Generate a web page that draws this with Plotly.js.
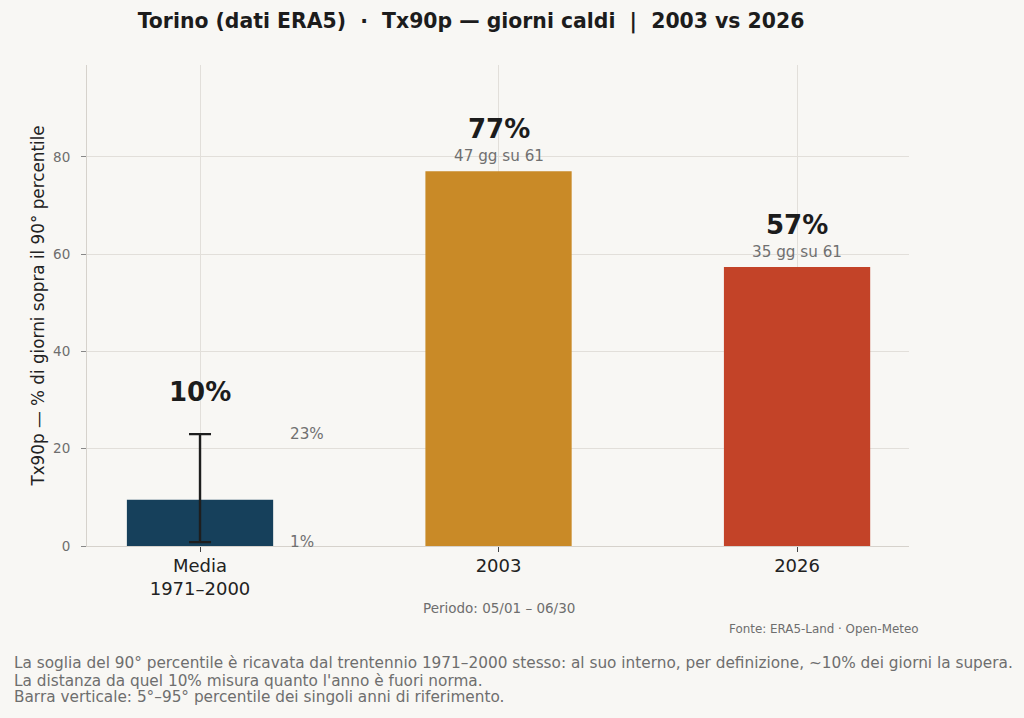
<!DOCTYPE html>
<html>
<head>
<meta charset="utf-8">
<script src="https://cdn.plot.ly/plotly-3.0.1.min.js"></script>
<style>html,body{margin:0;padding:0;background:#f8f7f4;}#chart{width:1024px;height:718px;}</style>
</head>
<body>
<div id="chart"></div>
<script>
// ---- data ----
const categories = ["Media<br>1971–2000", "2003", "2026"];
const values = [9.5, 77.05, 57.38];
const pctLabels = ["10%", "77%", "57%"];
const subLabels = ["", "47 gg su 61", "35 gg su 61"];
const barColors = ["#16405b", "#c98a27", "#c34328"];
const refP95 = 23.0;
const refP5 = 0.8;
const refP95Label = "23%";
const refP5Label = "1%";
const yTicks = [0, 20, 40, 60, 80];

const FONT = "DejaVu Sans, sans-serif";
const L = 87, R = 909, TOP = 65, BOT = 546;
function paperX(px) { return (px - L) / (R - L); }
function paperY(py) { return (BOT - py) / (BOT - TOP); }

const traces = [
  {
    type: "bar",
    x: [0, 1, 2],
    y: values,
    width: 0.49,
    marker: {color: barColors, line: {width: 0}},
    hoverinfo: "skip"
  },
  {
    type: "scatter",
    mode: "markers",
    x: [0],
    y: [values[0]],
    marker: {size: 1, opacity: 0},
    error_y: {
      type: "data", symmetric: false,
      array: [refP95 - values[0]],
      arrayminus: [values[0] - refP5],
      color: "#1e1e1e", thickness: 2.4, width: 11
    },
    hoverinfo: "skip"
  }
];

const annotations = [];
values.forEach((v, i) => {
  const base = i === 0 ? refP95 : v;
  annotations.push({x: i, y: base, xref: "x", yref: "y", text: "<b>" + pctLabels[i] + "</b>",
    showarrow: false, yshift: 42, yanchor: "middle",
    font: {family: FONT, size: 26, color: "#1c1c1c"}});
  if (subLabels[i]) {
    annotations.push({x: i, y: v, xref: "x", yref: "y", text: subLabels[i],
      showarrow: false, yshift: 15, yanchor: "middle",
      font: {family: FONT, size: 15.2, color: "#707070"}});
  }
});
annotations.push({x: 0.295, y: refP95, xref: "x", yref: "y", text: refP95Label, showarrow: false,
  xanchor: "left", yanchor: "middle", font: {family: FONT, size: 15.2, color: "#707070"}});
annotations.push({x: 0.295, y: refP5, xref: "x", yref: "y", text: refP5Label, showarrow: false,
  xanchor: "left", yanchor: "middle", font: {family: FONT, size: 15.2, color: "#707070"}});
annotations.push({x: 1, y: paperY(608), xref: "x", yref: "paper", text: "Periodo: 05/01 – 06/30", showarrow: false,
  xanchor: "center", yanchor: "middle", font: {family: FONT, size: 13.5, color: "#6e6e6e"}});
annotations.push({x: paperX(920), y: paperY(629), xref: "paper", yref: "paper", text: "Fonte: ERA5-Land · Open-Meteo", showarrow: false,
  xanchor: "right", yanchor: "middle", font: {family: FONT, size: 11.9, color: "#6e6e6e"}});
const footer = [
  "La soglia del 90° percentile è ricavata dal trentennio 1971–2000 stesso: al suo interno, per definizione, ~10% dei giorni la supera.",
  "La distanza da quel 10% misura quanto l'anno è fuori norma.",
  "Barra verticale: 5°–95° percentile dei singoli anni di riferimento."
];
const footerY = [663, 681, 697];
footer.forEach((t, i) => {
  annotations.push({x: paperX(12), y: paperY(footerY[i]), xref: "paper", yref: "paper", text: t, showarrow: false,
    xanchor: "left", yanchor: "middle", font: {family: FONT, size: 15.3, color: "#6e6e6e"}});
});

const layout = {
  width: 1024, height: 718,
  paper_bgcolor: "#f8f7f4", plot_bgcolor: "#f8f7f4",
  margin: {l: L, r: 1024 - R, t: TOP, b: 718 - BOT, pad: 0},
  showlegend: false,
  title: {text: "<b>Torino (dati ERA5)  ·  Tx90p — giorni caldi  |  2003 vs 2026</b>",
    x: paperX(471), xanchor: "center", xref: "paper", y: 1 - 21 / 718, yanchor: "middle",
    font: {family: FONT, size: 20.4, color: "#1c1c1c"}},
  xaxis: {
    range: [-0.3786, 2.375], tickmode: "array", tickvals: [0, 1, 2], ticktext: categories,
    showgrid: true, gridcolor: "#e2dfda", gridwidth: 1, zeroline: false,
    showline: true, linecolor: "#d6d2cc", linewidth: 1,
    ticks: "outside", ticklen: 5, tickcolor: "#444", tickwidth: 1, ticklabelstandoff: -2,
    tickfont: {family: FONT, size: 18, color: "#222"}, fixedrange: true
  },
  yaxis: {
    range: [0, 98.9], tickmode: "array", tickvals: yTicks,
    showgrid: true, gridcolor: "#e2dfda", gridwidth: 1, zeroline: false,
    showline: true, linecolor: "#d6d2cc", linewidth: 1,
    ticks: "outside", ticklen: 5, tickcolor: "#888", tickwidth: 1, ticklabelstandoff: 8,
    tickfont: {family: FONT, size: 13.5, color: "#6e6e6e"},
    title: {text: "Tx90p — % di giorni sopra il 90° percentile", standoff: 4,
      font: {family: FONT, size: 16.8, color: "#222"}}, fixedrange: true
  },
  annotations: annotations
};

Plotly.newPlot("chart", traces, layout, {displayModeBar: false, staticPlot: true});
</script>
</body>
</html>
